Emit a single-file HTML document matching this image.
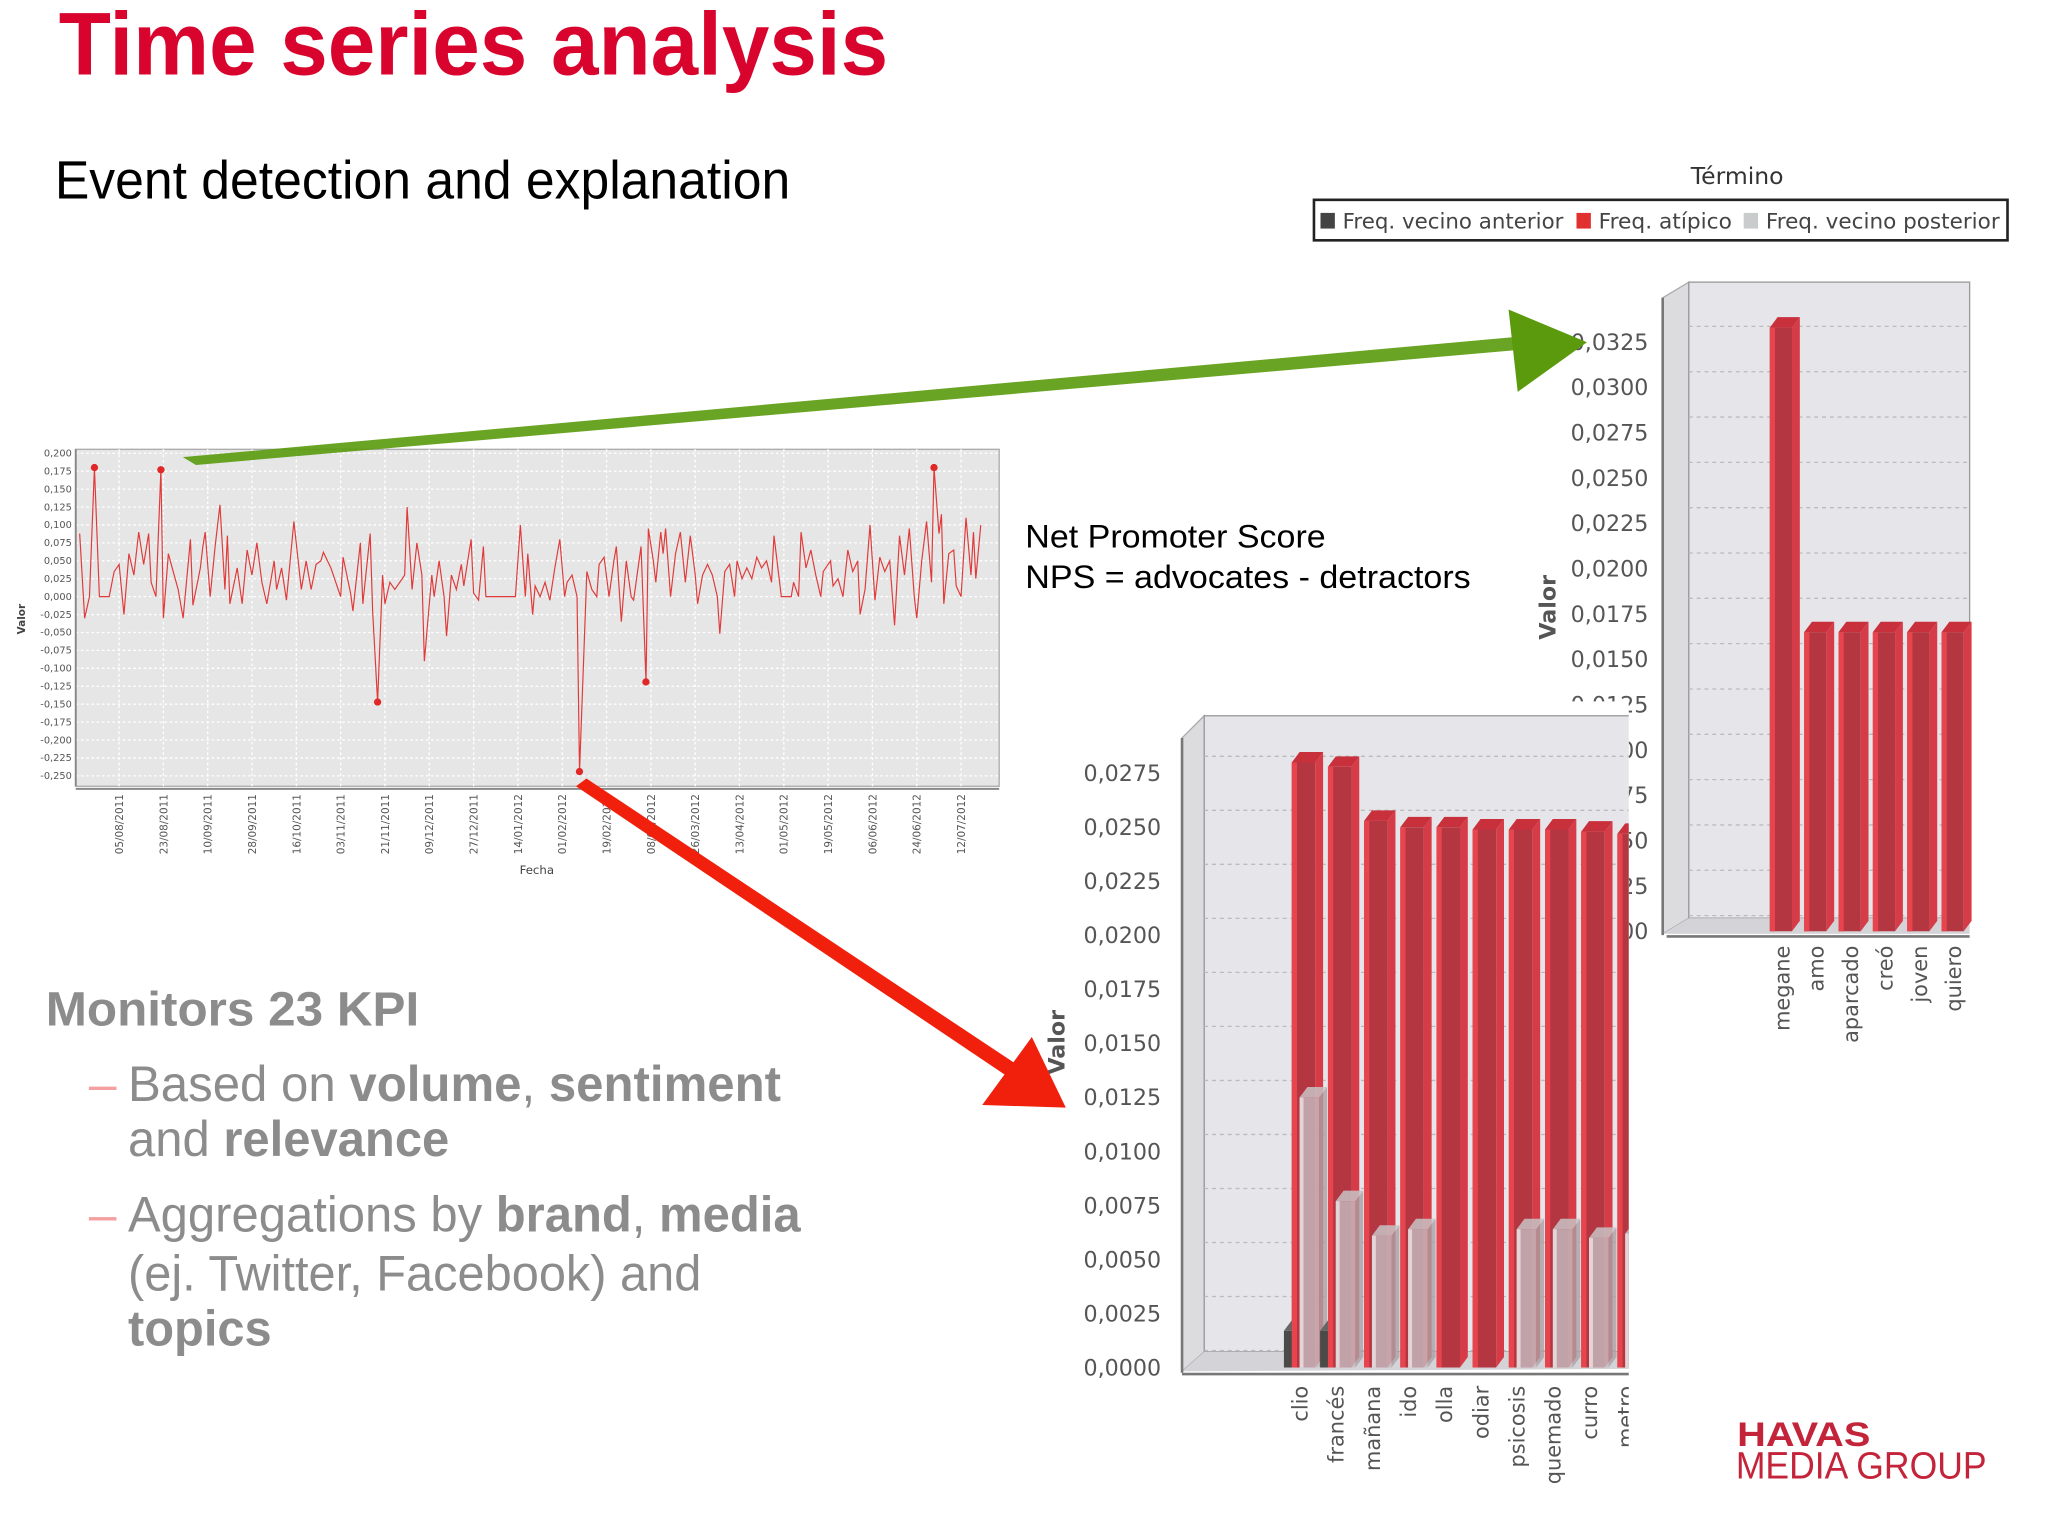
<!DOCTYPE html>
<html><head><meta charset="utf-8"><style>
html,body{margin:0;padding:0;background:#fff;}
svg{display:block;}
text{font-family:"Liberation Sans",sans-serif;}
.dj{font-family:"DejaVu Sans","Liberation Sans",sans-serif;}
</style></head><body>
<svg id="slide" width="2048" height="1536" viewBox="0 0 1568 1176" xmlns="http://www.w3.org/2000/svg">
<defs><clipPath id="botclip"><rect x="0" y="0" width="1247" height="1176"/></clipPath></defs>
<rect width="1568" height="1176" fill="#fff"/>
<text x="45" y="57" font-size="68" font-weight="bold" fill="#d9042e" textLength="635" lengthAdjust="spacingAndGlyphs">Time series analysis</text>
<text x="42" y="152" font-size="41" fill="#000" textLength="563" lengthAdjust="spacingAndGlyphs">Event detection and explanation</text>
<text x="785" y="419" font-size="25" fill="#000" textLength="230" lengthAdjust="spacingAndGlyphs">Net Promoter Score</text>
<text x="785" y="450" font-size="25" fill="#000" textLength="341" lengthAdjust="spacingAndGlyphs">NPS = advocates - detractors</text>
<g fill="#8c8c8c" font-size="38">
<text x="35" y="785" font-weight="bold" font-size="37" textLength="286" lengthAdjust="spacingAndGlyphs">Monitors 23 KPI</text>
<text x="68" y="843" fill="#f4a0a0">–</text>
<text x="98" y="843" textLength="500" lengthAdjust="spacingAndGlyphs">Based on <tspan font-weight="bold">volume</tspan>, <tspan font-weight="bold">sentiment</tspan></text>
<text x="98" y="885" textLength="246" lengthAdjust="spacingAndGlyphs">and <tspan font-weight="bold">relevance</tspan></text>
<text x="68" y="943" fill="#f4a0a0">–</text>
<text x="98" y="943" textLength="515" lengthAdjust="spacingAndGlyphs">Aggregations by <tspan font-weight="bold">brand</tspan>, <tspan font-weight="bold">media</tspan></text>
<text x="98" y="988" textLength="439" lengthAdjust="spacingAndGlyphs">(ej. Twitter, Facebook) and</text>
<text x="98" y="1030" font-weight="bold" textLength="110" lengthAdjust="spacingAndGlyphs">topics</text>
</g>
<g id="ts"></g>
<g id="top"></g>
<g id="bot" clip-path="url(#botclip)"></g>
<g fill="#5a9a0c">
<polygon points="140,350 1160,258 1162,268 150,356" opacity="0.9"/>
<polygon points="1155,237 1215,262 1162,300"/>
</g>
<g fill="#f0200c">
<polygon points="441,602 449,596 795,826 786,834"/>
<polygon points="752,846 816,848 790,794"/>
</g>
<g fill="#c4243a">
<text x="1330" y="1107" font-size="26" font-weight="bold" textLength="102" lengthAdjust="spacingAndGlyphs">HAVAS</text>
<text x="1329" y="1132" font-size="29" textLength="192" lengthAdjust="spacingAndGlyphs">MEDIA GROUP</text>
</g>
</svg>
<script>
// ---------- Time series data ----------
const tsDays = [0,2,4,6,8,10,12,14,16,18,20,22,24,26,28,29,31,33,34,36,38,40,42,45,46,49,50,51,53,55,57,59,60,61,64,66,68,70,72,74,76,79,80,82,84,87,90,92,94,96,98,99,102,103,106,107,110,111,114,115,118,119,121,123,124,126,128,130,132,133,135,137,139,140,143,144,146,148,149,151,153,155,156,159,160,162,164,165,169,173,177,179,181,182,184,185,187,189,191,193,195,197,198,200,202,203,206,208,210,211,213,215,217,218,220,222,224,225,228,230,231,233,234,236,237,238,240,242,244,246,248,250,251,253,255,257,259,260,262,264,266,267,269,271,273,275,277,279,281,282,285,286,289,290,292,293,295,297,299,301,302,305,306,308,310,312,314,316,317,319,321,323,325,327,329,331,333,335,337,339,340,342,344,346,347,349,350,351,353,355,356,358,360,362,363,364,366];
const tsValues = [0.088,-0.03,0.0,0.18,0.0,0.0,0.0,0.035,0.045,-0.025,0.06,0.03,0.09,0.045,0.088,0.02,0.0,0.177,-0.03,0.06,0.035,0.01,-0.03,0.08,-0.012,0.04,0.07,0.09,0.0,0.07,0.128,0.01,0.085,-0.01,0.04,-0.01,0.065,0.03,0.075,0.02,-0.01,0.05,0.01,0.04,-0.005,0.105,0.01,0.05,0.01,0.045,0.05,0.062,0.04,0.03,0.0,0.055,0.005,-0.02,0.075,-0.01,0.088,-0.02,-0.147,0.03,-0.01,0.02,0.01,0.02,0.03,0.125,0.01,0.075,0.03,-0.09,0.03,0.0,0.05,0.0,-0.055,0.03,0.01,0.045,0.015,0.08,0.005,-0.005,0.07,0.0,0.0,0.0,0.0,0.1,0.0,0.06,-0.025,0.015,0.0,0.02,-0.005,0.04,0.08,0.0,0.02,0.03,0.0,-0.244,0.035,0.01,0.0,0.045,0.055,0.0,0.05,0.07,-0.035,0.05,0.0,-0.005,0.07,-0.119,0.095,0.05,0.02,0.09,0.06,0.095,0.0,0.06,0.09,0.02,0.085,0.03,-0.01,0.03,0.045,0.03,0.0,-0.052,0.035,0.045,0.0,0.05,0.025,0.04,0.025,0.055,0.04,0.05,0.02,0.085,0.0,0.0,0.0,0.02,0.0,0.09,0.04,0.065,0.03,0.0,0.035,0.05,0.015,0.025,0.0,0.065,0.035,0.05,-0.025,0.01,0.1,-0.005,0.055,0.035,0.05,-0.04,0.085,0.03,0.095,0.0,-0.03,0.05,0.105,0.02,0.18,0.088,0.115,-0.01,0.06,0.065,0.015,0.0,0.11,0.03,0.09,0.025,0.1];
const tsAnomalyDays = [6,33,121,203,230,347];
const tsTickLabels = ["05/08/2011","23/08/2011","10/09/2011","28/09/2011","16/10/2011","03/11/2011","21/11/2011","09/12/2011","27/12/2011","14/01/2012","01/02/2012","19/02/2012","08/03/2012","26/03/2012","13/04/2012","01/05/2012","19/05/2012","06/06/2012","24/06/2012","12/07/2012"];
const tsTickDays = [16,34,52,70,88,106,124,142,160,178,196,214,232,250,268,286,304,322,340,358];
const tsYTicks = [0.2,0.175,0.15,0.125,0.1,0.075,0.05,0.025,0,-0.025,-0.05,-0.075,-0.1,-0.125,-0.15,-0.175,-0.2,-0.225,-0.25];

// ---------- Top bar chart data ----------
const topCats = ["megane","amo","aparcado","creó","joven","quiero"];
const topAtipico = [0.0333,0.0165,0.0165,0.0165,0.0165,0.0165];
const topTicks = [0.0325,0.03,0.0275,0.025,0.0225,0.02,0.0175,0.015,0.0125,0.01,0.0075,0.005,0.0025,0];

// ---------- Bottom bar chart data ----------
const botCats = ["clio","francés","mañana","ido","olla","odiar","psicosis","quemado","curro","metro"];
const botAnterior = [0.0017,0.0017,0,0,0,0,0,0,0,0];
const botAtipico = [0.0280,0.0278,0.0253,0.0250,0.0250,0.0249,0.0249,0.0249,0.0248,0.0247];
const botPosterior = [0.0125,0.0077,0.0061,0.0064,0,0,0.0064,0.0064,0.0060,0.0062];
const botTicks = [0.0275,0.025,0.0225,0.02,0.0175,0.015,0.0125,0.01,0.0075,0.005,0.0025,0];

const NS = "http://www.w3.org/2000/svg";
function mk(parent, tag, attrs, txt){
  const e = document.createElementNS(NS, tag);
  for (const k in attrs) e.setAttribute(k, attrs[k]);
  if (txt !== undefined) e.textContent = txt;
  parent.appendChild(e);
  return e;
}
const fmt = (v, d) => v.toFixed(d).replace('.', ',');

// ===== Time series =====
(function(){
  const g = document.getElementById('ts');
  const L=58, R=765, T=344, B=602;
  const x = d => 61 + d * 1.885;
  const y = v => 456.8 - v * 548.9;
  let el = mk(g,'rect',{x:L,y:T,width:R-L,height:B-T,fill:'#e6e6e6',stroke:'#aaa','stroke-width':1});
   
  tsYTicks.forEach(v=>{
    const ln = mk(g,'line',{x1:L,x2:R,y1:y(v),y2:y(v),stroke:'#fff','stroke-width':1,'stroke-dasharray':'2,2'});
     
    const t = mk(g,'text',{x:L-3,y:y(v)+2.5,'font-size':7.5,'text-anchor':'end',fill:'#555',class:'dj'},fmt(v,3));
     
  });
  tsTickDays.forEach((d,i)=>{
    const ln = mk(g,'line',{x1:x(d),x2:x(d),y1:T,y2:B,stroke:'#fff','stroke-width':1,'stroke-dasharray':'2,2'});
     
    const t = mk(g,'text',{x:0,y:0,'font-size':8,'text-anchor':'end',fill:'#555',class:'dj',transform:`translate(${x(d)+3},${B+6}) rotate(-90)`},tsTickLabels[i]);
     
  });
  el = mk(g,'line',{x1:L,x2:L,y1:T,y2:B,stroke:'#888','stroke-width':1.5});
   
  el = mk(g,'line',{x1:L,x2:R,y1:B+2,y2:B+2,stroke:'#888','stroke-width':1.5});
   
  const pts = tsDays.map((d,i)=>x(d).toFixed(1)+','+y(tsValues[i]).toFixed(1)).join(' ');
  el = mk(g,'polyline',{points:pts,fill:'none',stroke:'#e03a3a','stroke-width':0.9});
   
  tsAnomalyDays.forEach(d=>{
    const i = tsDays.indexOf(d);
    const c = mk(g,'circle',{cx:x(d),cy:y(tsValues[i]),r:2.8,fill:'#e02828'});
     
  });
  el = mk(g,'text',{x:0,y:0,'font-size':8,'font-weight':'bold','text-anchor':'middle',fill:'#444',class:'dj',transform:'translate(19,474) rotate(-90)'},'Valor');
   
  el = mk(g,'text',{x:411,y:669,'font-size':9,'text-anchor':'middle',fill:'#444',class:'dj'},'Fecha');
   
})();

// ===== 3D bar helper =====
function bar(g, x0, w, yTop, yBase, front, side, topc, name){
  const dx=6, dy=-8;
  const grp = mk(g,'g',{});
   
  mk(grp,'rect',{x:x0,y:yTop,width:w,height:Math.max(0,yBase-yTop),fill:front});
  mk(grp,'polygon',{points:`${x0+w},${yTop} ${x0+w+dx},${yTop+dy} ${x0+w+dx},${yBase+dy} ${x0+w},${yBase}`,fill:side});
  mk(grp,'polygon',{points:`${x0},${yTop} ${x0+dx},${yTop+dy} ${x0+w+dx},${yTop+dy} ${x0+w},${yTop}`,fill:topc});
  return grp;
}

// ===== Top chart =====
(function(){
  const g = document.getElementById('top');
  const y = v => 713 - v / 0.0025 * 34.7;
  let el = mk(g,'text',{x:1330,y:141,'font-size':18,'text-anchor':'middle',fill:'#333',class:'dj'},'Término');
   
  el = mk(g,'rect',{x:1006,y:153,width:531,height:31,fill:'#fff',stroke:'#222','stroke-width':2});
   
  const leg = [['#444','Freq. vecino anterior',1011,1028,169],['#e03030','Freq. atípico',1207,1224,102],['#c8cccc','Freq. vecino posterior',1335,1352,179]];
  leg.forEach(l=>{
    const s = mk(g,'rect',{x:l[2],y:163,width:11,height:12,fill:l[0]});
     
    const t = mk(g,'text',{x:l[3],y:175,'font-size':16,fill:'#444',class:'dj',textLength:l[4],lengthAdjust:'spacingAndGlyphs'},l[1]);
     
  });
  el = mk(g,'polygon',{points:'1273,228 1293,216 1293,703 1273,715',fill:'#dcdcdf',stroke:'#aaa','stroke-width':1});
   
  el = mk(g,'rect',{x:1293,y:216,width:215,height:487,fill:'#e6e6ea',stroke:'#999','stroke-width':1});
   
  el = mk(g,'polygon',{points:'1273,715 1293,703 1508,703 1508,715',fill:'#d4d4d8'});
   
  topTicks.forEach(v=>{
    const ln = mk(g,'line',{x1:1293,x2:1508,y1:y(v)-12,y2:y(v)-12,stroke:'#bbb','stroke-dasharray':'3,3'});
     
    const t = mk(g,'text',{x:1262,y:y(v)+6,'font-size':17,'text-anchor':'end',fill:'#555',class:'dj'},fmt(v,4));
     
  });
  el = mk(g,'line',{x1:1273,x2:1273,y1:228,y2:716,stroke:'#777','stroke-width':2});
   
  el = mk(g,'line',{x1:1276,x2:1508,y1:717,y2:717,stroke:'#777','stroke-width':2});
   
  topCats.forEach((c,i)=>{
    const x0 = 1355 + i*26.3;
    bar(g, x0, 17, y(topAtipico[i]), 713, '#b33641', '#d63c48', '#c8303c', 'top-bar-atipico');
    mk(g,'rect',{x:x0,y:y(topAtipico[i]),width:4,height:713-y(topAtipico[i]),fill:'#e8444e'});
    const t = mk(g,'text',{x:0,y:0,'font-size':16,'text-anchor':'end',fill:'#555',class:'dj',transform:`translate(${x0+15},${724}) rotate(-90)`},c);
     
  });
  el = mk(g,'text',{x:0,y:0,'font-size':17,'font-weight':'bold','text-anchor':'middle',fill:'#555',class:'dj',transform:'translate(1191,465) rotate(-90)'},'Valor');
   
})();

// ===== Bottom chart =====
(function(){
  const g = document.getElementById('bot');
  const base = 1047;
  const y = v => base - v / 0.0025 * 41.36;
  let el = mk(g,'rect',{x:800,y:537,width:448,height:613,fill:'#fff'});
   
  el = mk(g,'polygon',{points:'905,565 922,548 922,1035 905,1050',fill:'#dcdcdf',stroke:'#aaa','stroke-width':1});
   
  el = mk(g,'rect',{x:922,y:548,width:330,height:487,fill:'#e6e6ea',stroke:'#999','stroke-width':1});
   
  el = mk(g,'polygon',{points:'905,1050 922,1035 1252,1035 1252,1048',fill:'#d4d4d8'});
   
  botTicks.forEach(v=>{
    const ln = mk(g,'line',{x1:922,x2:1250,y1:y(v)-13,y2:y(v)-13,stroke:'#bbb','stroke-dasharray':'3,3'});
     
    const t = mk(g,'text',{x:889,y:y(v)+6,'font-size':17,'text-anchor':'end',fill:'#555',class:'dj'},fmt(v,4));
     
  });
  el = mk(g,'line',{x1:905,x2:905,y1:565,y2:1051,stroke:'#777','stroke-width':2});
   
  el = mk(g,'line',{x1:905,x2:1250,y1:1052,y2:1052,stroke:'#777','stroke-width':2});
   
  botCats.forEach((c,i)=>{
    const x0 = 989 + i*27.7;
    if (botAnterior[i] > 0) bar(g, x0-6, 7, y(botAnterior[i]), base, '#4a4a48', '#5a5a58', '#666', 'bottom-bar-anterior');
    bar(g, x0, 18, y(botAtipico[i]), base, '#b33641', '#d63c48', '#c8303c', 'bottom-bar-atipico');
    mk(g,'rect',{x:x0,y:y(botAtipico[i]),width:4,height:base-y(botAtipico[i]),fill:'#e8444e'});
    if (botPosterior[i] > 0){
      bar(g, x0+6, 15, y(botPosterior[i]), base, 'rgba(196,190,194,0.8)', 'rgba(170,160,165,0.8)', 'rgba(200,195,198,0.85)', 'bottom-bar-posterior');
      mk(g,'rect',{x:x0+6,y:y(botPosterior[i]),width:3,height:base-y(botPosterior[i]),fill:'rgba(235,225,228,0.8)'});
    }
    const t = mk(g,'text',{x:0,y:0,'font-size':16,'text-anchor':'end',fill:'#555',class:'dj',transform:`translate(${x0+12},${1061}) rotate(-90)`},c);
     
  });
  el = mk(g,'text',{x:0,y:0,'font-size':17,'font-weight':'bold','text-anchor':'middle',fill:'#555',class:'dj',transform:'translate(815,798) rotate(-90)'},'Valor');
   
})();
</script>
</body></html>
